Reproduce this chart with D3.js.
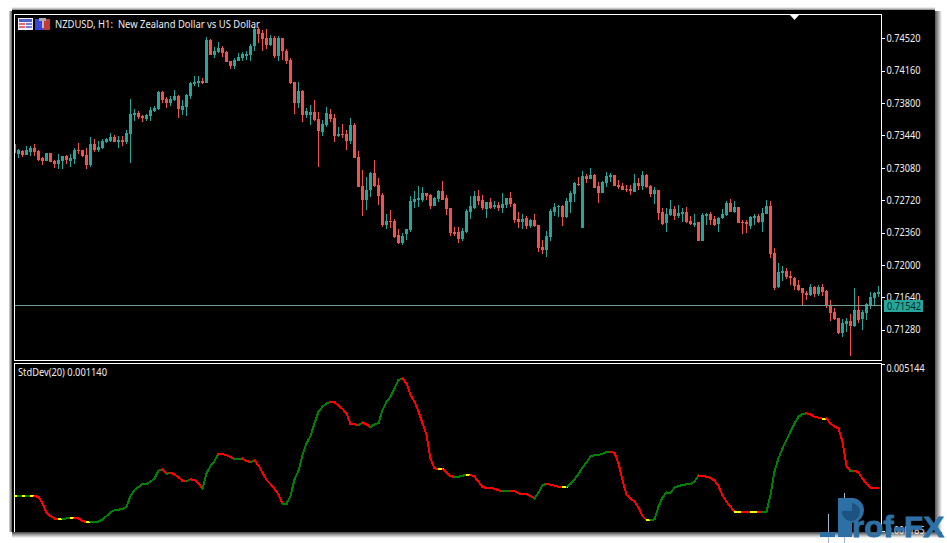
<!DOCTYPE html>
<html><head><meta charset="utf-8">
<script src="https://cdn.jsdelivr.net/npm/d3@7"></script>
<style>
html,body{margin:0;padding:0;background:#fff;overflow:hidden}
svg{display:block}
text{font-family:"Noto Sans",sans-serif;font-size:10px;fill:#eee}
</style></head><body><div id="chart"></div>
<script>
const opens=[73341,73237,73267,73226,73259,73296,73267,73189,73152,73241,
73156,73119,73152,73208,73159,73174,73274,73274,73219,73108,
73341,73274,73296,73363,73374,73419,73363,73385,73363,73452,
73667,73689,73652,73619,73652,73708,73730,73919,73841,73796,
73830,73874,73719,73752,73874,74015,74022,74048,74019,74497,
74330,74374,74408,74374,74267,74208,74274,74297,74319,74330,
74430,74626,74585,74519,74452,74530,74319,74530,74385,74285,
74030,73796,73930,73663,73663,73696,73619,73474,73552,73674,
73630,73430,73452,73452,73374,73552,73196,72874,72719,72830,
73019,72885,72774,72441,72485,72485,72330,72241,72341,72385,
72696,72719,72719,72796,72774,72652,72730,72819,72741,72630,
72363,72363,72285,72363,72585,72630,72763,72719,72619,72696,
72641,72663,72630,72663,72741,72674,72507,72474,72519,72430,
72496,72441,72196,72163,72307,72585,72641,72652,72530,72696,
72785,72896,72407,72985,72952,72996,72874,72796,72907,72974,
72996,72885,72874,72841,72841,72807,72907,72874,72996,72874,
72785,72830,72585,72463,72552,72618,72541,72563,72585,72485,
72441,72474,72263,72541,72563,72507,72452,72518,72552,72685,
72585,72641,72474,72474,72430,72518,72541,72474,72563,72652,
72129,71752,71907,71929,71874,71852,71774,71741,71685,71663,
71752,71674,71752,71707,71552,71474,71407,71241,71341,71374,
71318,71496,71396,71463,71552,71630,71674];
const highs=[73341,73285,73274,73319,73319,73341,73278,73200,73241,73241,
73163,73230,73215,73226,73230,73296,73352,73274,73300,73419,
73404,73374,73396,73408,73463,73448,73430,73430,73496,73841,
73730,73708,73663,73674,73752,73763,73934,73930,73867,73874,
73941,73885,73830,73897,74030,74097,74097,74074,74541,74508,
74419,74485,74430,74385,74274,74297,74363,74374,74385,74463,
74645,74645,74608,74630,74563,74552,74552,74530,74397,74297,
74030,74030,73941,73741,73774,73830,73696,73608,73752,73730,
73674,73530,73563,73496,73630,73574,73263,73052,72974,73030,
73163,72963,72796,72563,72607,72507,72396,72352,72396,72763,
72819,72874,72863,72796,72785,72752,72830,72930,72774,72630,
72419,72419,72407,72619,72763,72819,72830,72774,72696,72741,
72707,72696,72796,72741,72807,72685,72585,72563,72541,72507,
72563,72441,72274,72374,72619,72685,72663,72663,72741,72818,
72918,72974,73041,73007,73074,73007,72918,72930,73030,73018,
72996,72941,72907,72885,72885,73007,72963,73041,73007,72885,
72863,72830,72630,72630,72718,72652,72663,72630,72641,72541,
72563,72474,72574,72574,72585,72541,72530,72618,72707,72730,
72707,72641,72496,72496,72541,72563,72563,72630,72718,72707,
72185,72018,71985,71963,71929,71863,71829,71741,71707,71785,
71763,71774,71785,71718,71607,71518,71407,71396,71407,71452,
71741,71652,71496,71574,71696,71696,71763];
const lows=[73237,73189,73200,73219,73211,73211,73159,73108,73152,73141,
73078,73067,73070,73126,73089,73119,73230,73200,73063,73093,
73252,73252,73285,73356,73363,73363,73296,73326,73341,73130,
73596,73619,73585,73596,73596,73696,73719,73796,73741,73763,
73819,73630,73663,73652,73841,73985,73974,74008,74019,74330,
74297,74363,74308,74252,74185,74185,74263,74274,74285,74263,
74385,74474,74385,74397,74441,74297,74263,74285,74230,74008,
73674,73741,73585,73630,73552,73596,73085,73430,73530,73585,
73363,73419,73408,73274,73341,73185,72863,72541,72607,72752,
72863,72663,72419,72396,72407,72296,72230,72219,72274,72363,
72630,72641,72696,72719,72619,72652,72696,72719,72552,72319,
72319,72241,72263,72352,72507,72619,72663,72607,72519,72619,
72619,72596,72574,72630,72641,72463,72407,72396,72396,72407,
72419,72141,72119,72085,72263,72541,72530,72430,72518,72574,
72696,72874,72407,72907,72952,72852,72685,72796,72863,72918,
72874,72841,72830,72807,72774,72807,72830,72830,72852,72752,
72674,72496,72441,72363,72541,72496,72518,72474,72463,72441,
72418,72263,72263,72441,72441,72430,72363,72507,72541,72585,
72574,72463,72341,72352,72396,72441,72463,72363,72563,72074,
71718,71741,71818,71841,71774,71718,71707,71541,71607,71652,
71641,71652,71652,71518,71374,71385,71229,71196,71252,70985,
71307,71352,71274,71385,71507,71552,71641];
const closes=[73245,73274,73226,73278,73296,73252,73170,73159,73241,73141,
73122,73163,73208,73163,73185,73274,73267,73211,73108,73341,
73274,73308,73374,73400,73419,73363,73385,73363,73463,73674,
73685,73641,73630,73663,73719,73748,73919,73830,73796,73841,
73874,73730,73763,73885,74019,74034,74041,74019,74497,74330,
74385,74408,74352,74252,74208,74285,74308,74341,74341,74441,
74626,74574,74508,74452,74530,74319,74530,74385,74274,74019,
73796,73930,73663,73708,73696,73608,73485,73563,73685,73619,
73430,73452,73441,73374,73552,73185,72863,72719,72830,73019,
72874,72763,72441,72485,72474,72307,72241,72319,72396,72707,
72730,72741,72796,72763,72652,72741,72819,72726,72619,72352,
72341,72285,72374,72596,72652,72763,72707,72630,72696,72630,
72663,72630,72674,72741,72674,72496,72474,72515,72430,72496,
72430,72185,72163,72319,72596,72641,72652,72530,72707,72796,
72907,72885,72985,72952,72996,72852,72796,72918,72985,72996,
72874,72863,72830,72830,72818,72907,72874,72996,72863,72785,
72830,72574,72452,72563,72618,72541,72574,72585,72474,72452,
72463,72263,72552,72563,72496,72441,72518,72563,72685,72585,
72641,72463,72463,72452,72530,72541,72474,72574,72652,72118,
71741,71918,71929,71863,71852,71763,71718,71685,71663,71752,
71674,71752,71696,71541,71463,71396,71241,71352,71374,71318,
71496,71385,71474,71563,71641,71685,71696];
const stdDev=[1224,1224,1225,1225,1226,1226,1194,1006,729,630,
560,541,541,560,580,580,560,481,452,452,
462,463,531,630,739,798,818,838,907,1224,
1402,1491,1580,1590,1650,1748,1976,2016,1877,1917,
1867,1778,1679,1669,1719,1699,1600,1442,1897,2115,
2263,2481,2471,2432,2382,2323,2333,2334,2263,2234,
2273,2135,1917,1699,1580,1432,1273,986,996,1224,
1719,1976,2441,2788,3006,3382,3728,3877,3976,4016,
4006,3907,3808,3679,3372,3352,3332,3402,3352,3273,
3352,3392,3778,4025,4174,4421,4669,4709,4570,4223,
4025,3729,3382,3035,2342,2045,2026,2026,1927,1818,
1788,1798,1828,1848,1848,1798,1650,1491,1461,1460,
1442,1392,1372,1373,1382,1362,1303,1283,1282,1224,
1155,1323,1541,1590,1560,1531,1501,1491,1491,1580,
1719,1877,2075,2214,2392,2441,2442,2481,2521,2540,
2501,2194,1699,1253,1145,1056,887,630,511,511,
531,907,1184,1323,1324,1471,1521,1551,1570,1590,
1650,1828,1818,1798,1758,1679,1521,1234,1056,907,
758,758,758,757,756,756,756,755,756,1254,
1947,2343,2640,2887,3134,3382,3580,3659,3679,3649,
3580,3550,3521,3521,3382,3283,3233,2838,2115,1976,
1977,1927,1749,1580,1481,1461,1460];
const priceTicks=[74520,74160,73800,73440,73080,72720,72360,72000,71640,71280];
const stdTicks=[5144,185];
const bidPrice=71542;
const titleText="NZDUSD, H1:  New Zealand Dollar vs US Dollar";
const stdLabel="StdDev(20) 0.001140";
const watermark="rof-FX";

const W=947,H=543;
const UP="#26a69a",DOWN="#ef5350";
const svg=d3.select("#chart").append("svg").attr("width",W).attr("height",H);
const defs=svg.append("defs");
function grad(id,x2,y2,stops){
  const g=defs.append("linearGradient").attr("id",id).attr("x1",0).attr("y1",0).attr("x2",x2).attr("y2",y2);
  stops.forEach(s=>g.append("stop").attr("offset",s[0]).attr("stop-color",s[1]));
}
grad("gTop",0,1,[[0,"#fff"],[0.45,"#bbb"],[1,"#555"]]);
grad("gBot",0,1,[[0,"#444"],[0.5,"#aaa"],[1,"#fff"]]);
grad("gRight",1,0,[[0,"#555"],[0.5,"#aaa"],[1,"#fff"]]);
grad("gLeft",1,0,[[0,"#ddd"],[0.5,"#999"],[1,"#555"]]);
svg.append("rect").attr("x",12).attr("y",7).attr("width",923).attr("height",4).attr("fill","url(#gTop)");
svg.append("rect").attr("x",9).attr("y",11).attr("width",3).attr("height",521).attr("fill","url(#gLeft)");
svg.append("rect").attr("x",12).attr("y",532).attr("width",930).attr("height",6).attr("fill","url(#gBot)");
svg.append("rect").attr("x",935).attr("y",11).attr("width",7).attr("height",521).attr("fill","url(#gRight)");
svg.append("rect").attr("x",12).attr("y",10).attr("width",923).attr("height",522).attr("fill","#000");

const L=15,R=881,T=15,B=361,T2=364,B2=532;
const frame=svg.append("g").attr("fill","none").attr("stroke","#fff").attr("stroke-width",1).attr("shape-rendering","crispEdges");
frame.append("rect").attr("x",L-0.5).attr("y",T-0.5).attr("width",R-L+1).attr("height",B-T);
frame.append("path").attr("d",`M${L-0.5},${B2}V${T2-0.5}H${R+0.5}V${B2}`);

const clip=defs.append("clipPath").attr("id","cMain");
clip.append("rect").attr("x",L).attr("y",T).attr("width",R-L).attr("height",B-T-1);

const xIdx=d3.scaleLinear().domain([0,216]).range([14.5,878.5]);
const yPrice=d3.scaleLinear().domain([70930,74786]).range([361,14.5]);
const yStd=d3.scaleLinear().domain([185,5144]).range([531,364]);

const candles=opens.map((o,i)=>({i,o,h:highs[i],l:lows[i],c:closes[i]}));
const plot=svg.append("g").attr("clip-path","url(#cMain)").attr("shape-rendering","crispEdges");

svg.append("line").attr("x1",L).attr("x2",R).attr("y1",Math.round(yPrice(bidPrice))-0.5).attr("y2",Math.round(yPrice(bidPrice))-0.5)
  .attr("stroke","#6f9c97").attr("stroke-width",1).attr("shape-rendering","crispEdges");

plot.selectAll("rect.w").data(candles).join("rect").attr("class","w")
  .attr("x",d=>xIdx(d.i)-0.5).attr("width",1)
  .attr("y",d=>Math.round(yPrice(d.h)))
  .attr("height",d=>Math.max(1,Math.round(yPrice(d.l))-Math.round(yPrice(d.h))))
  .attr("fill",d=>d.c>=d.o?UP:DOWN);
plot.selectAll("rect.b").data(candles).join("rect").attr("class","b")
  .attr("x",d=>xIdx(d.i)-1.5).attr("width",3)
  .attr("y",d=>Math.round(yPrice(Math.max(d.o,d.c))))
  .attr("height",d=>Math.max(1,Math.round(yPrice(Math.min(d.o,d.c)))-Math.round(yPrice(Math.max(d.o,d.c)))))
  .attr("fill",d=>d.c>=d.o?UP:DOWN);

svg.append("path").attr("d","M790,15H799L794.5,20Z").attr("fill","#fff");

function styleAxis(g){
  g.select(".domain").remove();
  g.selectAll(".tick line").attr("stroke","#fff").attr("shape-rendering","crispEdges");
  g.selectAll(".tick text").attr("fill","#eee");
}
const axP=svg.append("g").attr("transform",`translate(${R+0.5},0)`)
  .call(d3.axisRight(yPrice).tickValues(priceTicks).tickSize(3).tickPadding(2).tickFormat(d=>(d/1e5).toFixed(5)));
axP.call(styleAxis);
axP.selectAll(".tick text").attr("textLength",34).attr("lengthAdjust","spacingAndGlyphs");
const axS=svg.append("g").attr("transform",`translate(${R+0.5},0)`)
  .call(d3.axisRight(yStd).tickValues(stdTicks).tickSize(3).tickPadding(2).tickFormat(d=>(d/1e6).toFixed(6)));
axS.call(styleAxis);
axS.selectAll(".tick text").attr("dy","0.32em").attr("textLength",38).attr("lengthAdjust","spacingAndGlyphs")
  .attr("transform",(d,i)=>i===0?"translate(0,4)":"translate(0,-1)");

const bidY=yPrice(bidPrice);
svg.append("rect").attr("x",884).attr("y",300).attr("width",39).attr("height",11.5).attr("fill",UP).attr("shape-rendering","crispEdges");
svg.append("text").attr("x",887).attr("y",bidY+4).text((bidPrice/1e5).toFixed(5)).style("fill","#062b28")
  .attr("textLength",34).attr("lengthAdjust","spacingAndGlyphs");

svg.append("text").attr("x",55).attr("y",28).text(titleText).style("white-space","pre")
  .attr("textLength",205).attr("lengthAdjust","spacingAndGlyphs");
const ic=svg.append("g").attr("shape-rendering","crispEdges");
ic.append("rect").attr("x",18).attr("y",18).attr("width",15).attr("height",12).attr("fill","#eef");
ic.append("rect").attr("x",19).attr("y",19).attr("width",13).attr("height",3).attr("fill","#5060c8");
[23,26].forEach(y=>{
  ic.append("rect").attr("x",19).attr("y",y).attr("width",6).attr("height",2).attr("fill","#ef6a6a");
  ic.append("rect").attr("x",26).attr("y",y).attr("width",6).attr("height",2).attr("fill","#6f7fe0");
});
ic.append("rect").attr("x",35).attr("y",19).attr("width",8).attr("height",11).attr("fill","#3a44d8");
ic.append("rect").attr("x",43).attr("y",19).attr("width",7).attr("height",11).attr("fill","#c03a3a");
ic.append("rect").attr("x",39).attr("y",18).attr("width",7).attr("height",3).attr("fill","#aaa");
ic.append("rect").attr("x",42).attr("y",21).attr("width",2).attr("height",7).attr("fill","#bbb");

svg.append("text").attr("x",18).attr("y",376).text(stdLabel).attr("textLength",89).attr("lengthAdjust","spacingAndGlyphs");
const line=d3.line().x(d=>xIdx(d[0])).y(d=>yStd(d[1]));
const segs=stdDev.slice(1).map((v,k)=>{
  const prev=stdDev[k];
  return {pts:[[k,prev],[k+1,v]],col:v>prev?"#008000":v<prev?"#ff0000":"#ffff00"};
});
svg.append("g").attr("fill","none").attr("stroke-width",2).attr("stroke-linecap","square").attr("shape-rendering","crispEdges")
  .selectAll("path").data(segs).join("path").attr("d",d=>line(d.pts)).attr("stroke",d=>d.col);

const WM="#2d70a6";
const wm=svg.append("g");
wm.append("rect").attr("x",828).attr("y",514).attr("width",1).attr("height",29).attr("fill","#9fb9cf");
wm.append("rect").attr("x",844).attr("y",493).attr("width",1).attr("height",50).attr("fill","#9fb9cf");
wm.append("rect").attr("x",820).attr("y",532).attr("width",15).attr("height",5).attr("fill",WM);
wm.append("path").attr("d","M838,498H854A12.5,12.5 0 0 1 854,522.5H852V537H838Z").attr("fill",WM);
wm.append("path").attr("d","M852,503A9,9 0 1 1 842,511H852Z").attr("fill","#1d5381");
wm.append("text").attr("x",852).attr("y",537).text(watermark)
  .style("font-family","'Liberation Sans',sans-serif").style("font-size","30px").style("font-weight","700").style("fill",WM)
  .style("stroke",WM).style("stroke-width","0.8px")
  .attr("textLength",92).attr("lengthAdjust","spacingAndGlyphs");
</script></body></html>
